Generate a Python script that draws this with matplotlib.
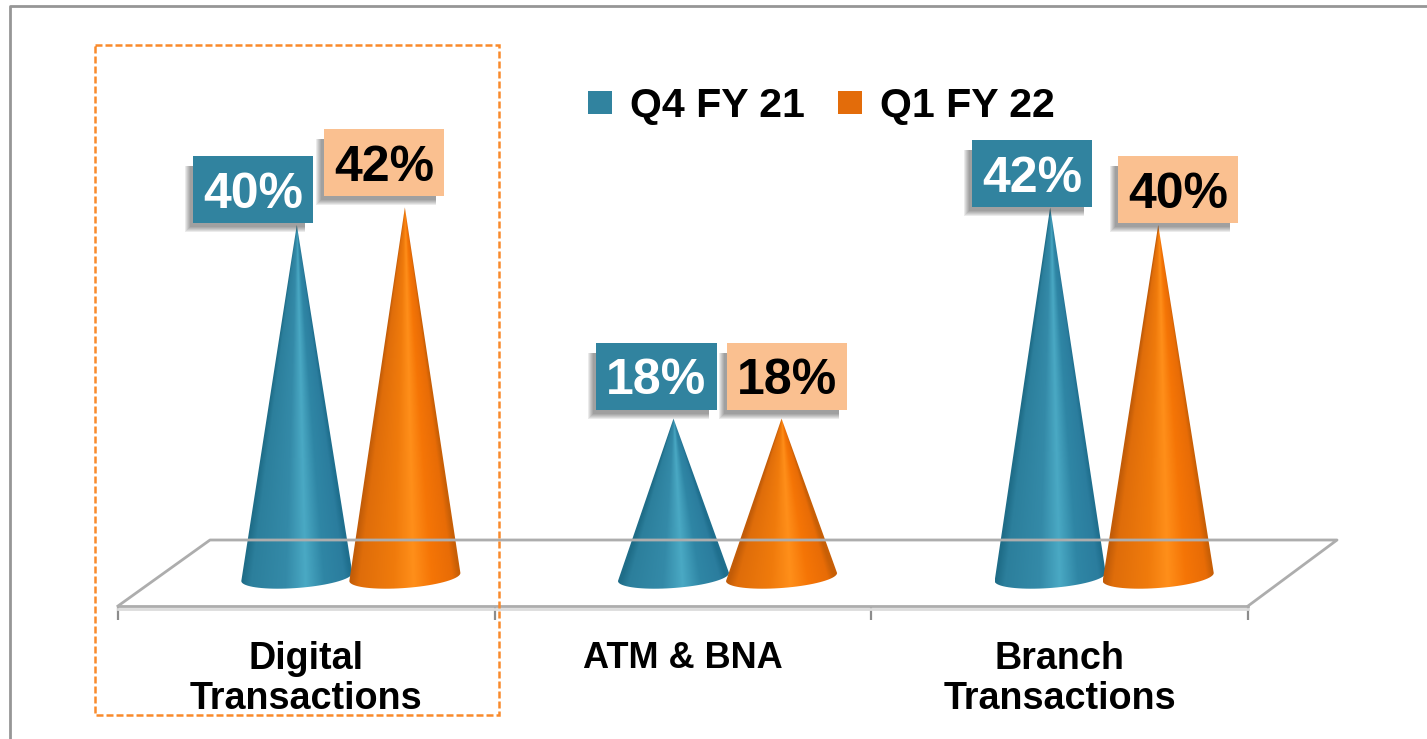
import numpy as np
import matplotlib

matplotlib.use("Agg")
import matplotlib.pyplot as plt
from matplotlib.colors import LinearSegmentedColormap
from matplotlib.lines import Line2D
from matplotlib.patches import Patch, PathPatch, Rectangle
from matplotlib.path import Path
from matplotlib.transforms import Affine2D

categories = ["Digital\nTransactions", "ATM & BNA", "Branch\nTransactions"]
series_names = ["Q4 FY 21", "Q1 FY 22"]
q4_fy21 = [40, 18, 42]
q1_fy22 = [42, 18, 40]

WIDTH, HEIGHT = 1427, 739
PX_X = 376.5  # pixels per category
PX_Y = 8.8  # pixels per percent

BLUE = "#31839f"
ORANGE = "#e36c0a"
PEACH = "#fac090"
GREY = "#adadad"

blue_cmap = LinearSegmentedColormap.from_list(
    "blue",
    [(0, "#1f6d88"), (0.08, "#2c7f9c"), (0.4, "#348aa8"), (0.58, "#4aa9c4"),
     (0.75, "#2f86a5"), (0.94, "#2b7d9e"), (1, "#1f6f8e")],
)
orange_cmap = LinearSegmentedColormap.from_list(
    "orange",
    [(0, "#c25c08"), (0.08, "#df6d0a"), (0.4, "#f07b0c"), (0.58, "#ff8f1a"),
     (0.75, "#f57506"), (0.94, "#e86c06"), (1, "#c85f06")],
)

plt.rcParams["font.family"] = ["Liberation Sans", "DejaVu Sans"]
plt.rcParams["font.weight"] = "bold"

fig = plt.figure(figsize=(WIDTH / 100, HEIGHT / 100), dpi=100)
ax = fig.add_axes([118 / WIDTH, (HEIGHT - 606) / HEIGHT, 1130 / WIDTH, 606 / HEIGHT])
ax.set_xlim(-0.5, 2.5)
ax.set_ylim(-29 / PX_Y, 577 / PX_Y)

# picture coordinates for the frame, the floor and the dashed box
px = Affine2D().scale(1 / WIDTH, -1 / HEIGHT).translate(0, 1) + fig.transFigure


def px_line(xs, ys, **kw):
    fig.add_artist(Line2D(xs, ys, transform=px, **kw))


px_line([9.5, 9.5, WIDTH], [HEIGHT, 5.5, 5.5], color="#969696", lw=2)
px_line([118, 210, 1337, 1248], [606, 540, 540, 606], color=GREY, lw=2, zorder=0.5)
px_line([118, 1248], [609, 609], color="#dcdcdc", lw=2, zorder=0.5)
fig.add_artist(
    Rectangle(
        (94.5, 44.5), 404, 670, transform=px, fill=False, ec="#f98a2c", lw=1.8,
        ls=(0, (2.8, 1.2)), zorder=5,
    )
)

for side in ["top", "left", "right"]:
    ax.spines[side].set_visible(False)
ax.spines["bottom"].set_color(GREY)
ax.spines["bottom"].set_linewidth(2)
ax.yaxis.set_visible(False)
ax.patch.set_alpha(0)
ax.set_xticks([-0.5, 0.5, 1.5, 2.5])
ax.set_xticklabels([])
ax.set_xticks([0, 1, 2], minor=True)
ax.set_xticklabels(categories, minor=True, fontsize=27.2, fontweight="bold", linespacing=1.14)
ax.get_xticklabels(minor=True)[1].set_fontsize(26)
ax.tick_params(axis="x", which="major", length=10, width=1.6, color="#8c8c8c")
ax.tick_params(axis="x", which="minor", length=0, pad=25)

DEPTH = 44.5 / PX_X  # floor depth shift of the cones
BAR_OFF = 54 / PX_X
HALF_W = 55.5 / PX_X


def draw_cone(x, value, cmap):
    t = np.linspace(0, np.pi, 40)
    bx = x + HALF_W * np.cos(t)
    by = -(11 * np.sin(t) - 4 * np.cos(t)) / PX_Y
    verts = [(x, value)] + list(zip(bx, by)) + [(x, value)]
    codes = [Path.MOVETO] + [Path.LINETO] * (len(verts) - 2) + [Path.CLOSEPOLY]
    clip = PathPatch(Path(verts, codes), transform=ax.transData, fc="none", ec="none")
    ax.add_patch(clip)

    # shading follows the cone's width at each height
    rows = np.linspace(1, 0, 300)[:, None]
    cols = np.linspace(-1, 1, 200)[None, :]
    u = cols / np.maximum(1 - rows * 0.995, 0.005)
    shade = np.clip((u + 1) / 2, 0, 1)
    bottom = -12 / PX_Y
    ax.imshow(
        shade, cmap=cmap, vmin=0, vmax=1, aspect="auto", interpolation="bilinear",
        extent=[x - HALF_W, x + HALF_W, bottom, value], clip_path=clip, zorder=2,
    )


def draw_label(x, value, dx, dy, face, color):
    left = x + (dx - 60) / PX_X
    low = value + dy / PX_Y
    w, h = 120 / PX_X, 67 / PX_Y
    # soft shadow, down and to the left, tucked in behind the top and right edges
    for grow in [5, 4, 3, 2, 1, 0]:
        ax.add_patch(
            Rectangle(
                (left - (3 + grow) / PX_X, low - (4 + grow) / PX_Y),
                w - 5 / PX_X + grow / PX_X, h - 6 / PX_Y + grow / PX_Y,
                fc="#222222", ec="none", alpha=0.085, zorder=3,
            )
        )
    ax.add_patch(Rectangle((left, low), w, h, fc=face, ec="none", zorder=4))
    ax.text(
        left + w / 2, low + h / 2 - 5 / PX_Y, f"{value}%", color=color, fontsize=36,
        fontweight="bold", ha="center", va="center", zorder=5,
    )


label_dx = [[-44, -17, -18], [-21, 5, 20]]
label_dy = [[2, 9, 0], [11, 9, 2]]

for i in range(len(categories)):
    draw_cone(i + DEPTH - BAR_OFF, q4_fy21[i], blue_cmap)
    draw_cone(i + DEPTH + BAR_OFF, q1_fy22[i], orange_cmap)
    draw_label(i + DEPTH - BAR_OFF, q4_fy21[i], label_dx[0][i], label_dy[0][i], BLUE, "white")
    draw_label(i + DEPTH + BAR_OFF, q1_fy22[i], label_dx[1][i], label_dy[1][i], PEACH, "black")

ax.set_xlim(-0.5, 2.5)
ax.set_ylim(-29 / PX_Y, 577 / PX_Y)

handles = [Patch(fc=BLUE, ec="none"), Patch(fc=ORANGE, ec="none")]
ax.legend(
    handles, series_names, ncol=2, frameon=False, loc="center",
    bbox_to_anchor=(821.5 / WIDTH, 1 - 106 / HEIGHT), bbox_transform=fig.transFigure,
    prop={"size": 29.6, "weight": "bold"}, handlelength=0.59, handleheight=0.5,
    handletextpad=0.44, columnspacing=0.8,
)

fig.savefig("out.png", dpi=100)
